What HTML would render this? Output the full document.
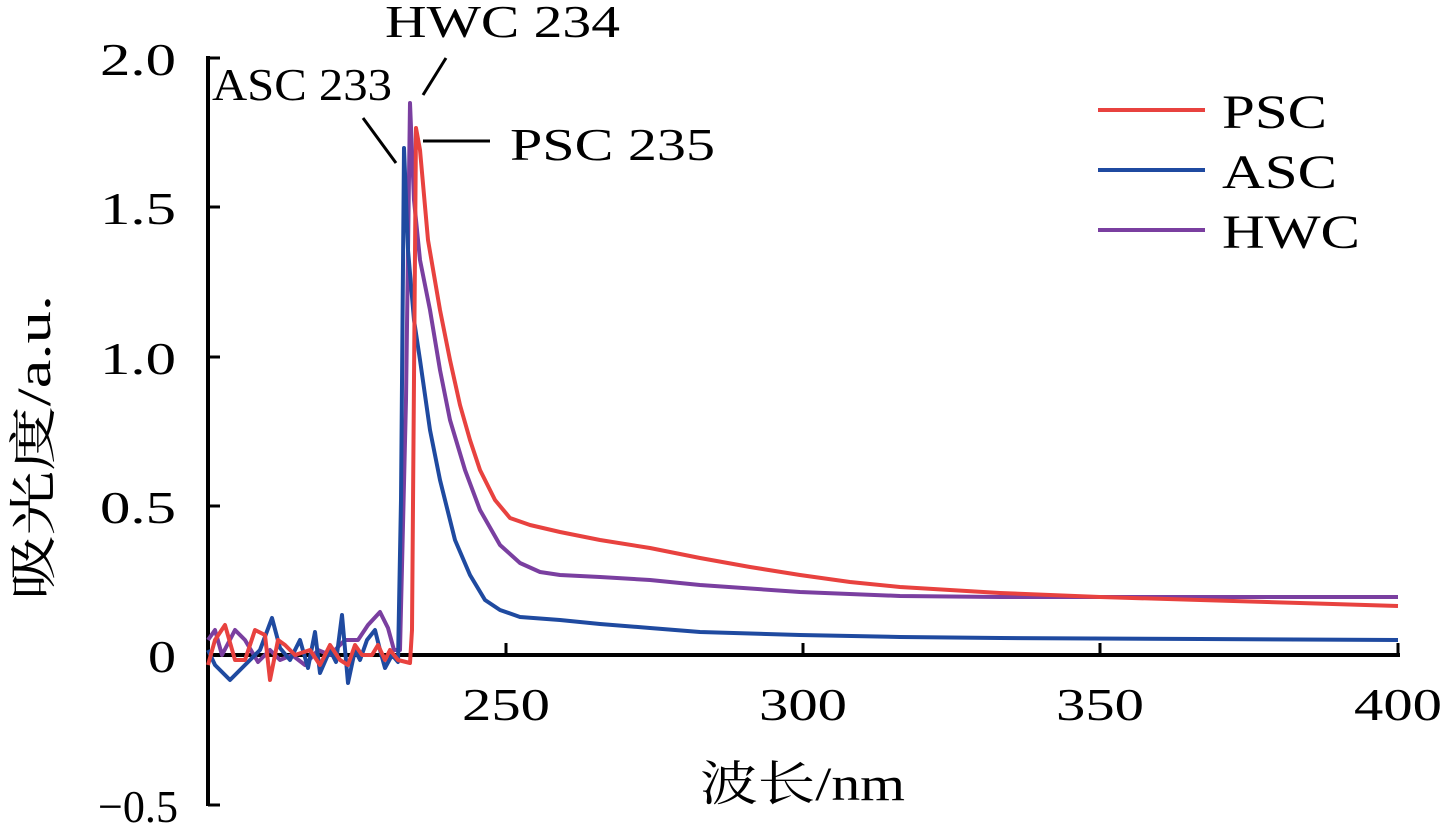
<!DOCTYPE html>
<html><head><meta charset="utf-8"><style>
html,body{margin:0;padding:0;background:#fff;}
svg{display:block;}
text{font-family:"Liberation Serif","Noto Serif CJK SC",serif;fill:#000;}
</style></head><body>
<svg width="1441" height="823" viewBox="0 0 1441 823">
<line x1="208" y1="56" x2="208" y2="806" stroke="#000" stroke-width="4"/>
<line x1="206" y1="655" x2="1400" y2="655" stroke="#000" stroke-width="4"/>
<g stroke="#000" stroke-width="3">
<line x1="208" y1="58" x2="220" y2="58"/>
<line x1="208" y1="207" x2="220" y2="207"/>
<line x1="208" y1="357" x2="220" y2="357"/>
<line x1="208" y1="506" x2="220" y2="506"/>
<line x1="208" y1="805" x2="220" y2="805"/>
<line x1="506" y1="655" x2="506" y2="643"/>
<line x1="803" y1="655" x2="803" y2="643"/>
<line x1="1100" y1="655" x2="1100" y2="643"/>
<line x1="1398" y1="655" x2="1398" y2="643"/>
</g>
<g font-size="46">
<text x="100" y="75" textLength="76" lengthAdjust="spacingAndGlyphs">2.0</text>
<text x="100" y="224" textLength="76" lengthAdjust="spacingAndGlyphs">1.5</text>
<text x="100" y="374" textLength="76" lengthAdjust="spacingAndGlyphs">1.0</text>
<text x="100" y="523" textLength="76" lengthAdjust="spacingAndGlyphs">0.5</text>
<text x="148" y="672" textLength="28" lengthAdjust="spacingAndGlyphs">0</text>
<text x="98" y="822" textLength="80" lengthAdjust="spacingAndGlyphs">−0.5</text>
</g>
<g font-size="46">
<text x="462" y="720" textLength="88" lengthAdjust="spacingAndGlyphs">250</text>
<text x="759" y="720" textLength="88" lengthAdjust="spacingAndGlyphs">300</text>
<text x="1056" y="720" textLength="88" lengthAdjust="spacingAndGlyphs">350</text>
<text x="1354" y="720" textLength="88" lengthAdjust="spacingAndGlyphs">400</text>
</g>
<text x="700" y="800" font-size="48" textLength="205" lengthAdjust="spacingAndGlyphs">波长/nm</text>
<text transform="translate(50,600) rotate(-90)" font-size="48" textLength="305" lengthAdjust="spacingAndGlyphs">吸光度/a.u.</text>
<g fill="none" stroke-width="4" stroke-linejoin="round">
<polyline stroke="#7a3fa0" points="208,640 215,630 222,655 235,630 245,640 258,662 270,650 280,660 292,655 305,665 318,650 330,655 345,640 358,640 368,625 380,612 388,628 394,650 400,650 406,400 410,103 414,200 420,260 430,310 440,370 450,420 465,470 480,510 500,545 520,563 540,572 560,575 600,577 650,580 700,585 800,592 900,596 1000,597 1200,597 1398,597"/>
<polyline stroke="#1f4aa0" points="208,650 215,665 230,680 240,670 250,660 260,650 272,618 280,648 290,660 300,640 308,668 315,632 320,673 330,650 336,662 342,615 348,683 355,650 360,660 367,640 375,630 380,650 385,668 392,655 398,662 401,500 404,148 408,250 414,320 420,360 430,430 440,480 455,540 470,575 485,600 500,610 520,617 560,620 600,624 650,628 700,632 800,635 900,637 1000,638 1200,639 1398,640"/>
<polyline stroke="#e8423f" points="208,665 215,640 225,625 235,660 245,660 255,630 265,635 270,680 278,640 285,645 295,655 310,650 320,665 330,645 340,660 348,665 355,645 362,655 372,655 378,645 385,660 390,650 398,660 410,663 412,630 416,128 420,150 428,240 440,310 450,360 460,405 470,440 480,470 495,500 510,518 530,525 560,532 600,540 650,548 700,558 750,567 800,575 850,582 900,587 1000,593 1100,597 1200,600 1300,603 1398,606"/>
</g>
<g stroke="#000" stroke-width="3">
<line x1="363" y1="118" x2="396" y2="163"/>
<line x1="423" y1="95" x2="446" y2="58"/>
<line x1="423" y1="141" x2="490" y2="141"/>
</g>
<g font-size="46">
<text x="385" y="37" textLength="235" lengthAdjust="spacingAndGlyphs">HWC 234</text>
<text x="212" y="100" textLength="180" lengthAdjust="spacingAndGlyphs">ASC 233</text>
<text x="510" y="160" textLength="205" lengthAdjust="spacingAndGlyphs">PSC 235</text>
</g>
<g stroke-width="4">
<line x1="1098" y1="110" x2="1205" y2="110" stroke="#e8423f"/>
<line x1="1098" y1="170" x2="1205" y2="170" stroke="#1f4aa0"/>
<line x1="1098" y1="230" x2="1205" y2="230" stroke="#7a3fa0"/>
</g>
<g font-size="48">
<text x="1222" y="128" textLength="105" lengthAdjust="spacingAndGlyphs">PSC</text>
<text x="1222" y="188" textLength="115" lengthAdjust="spacingAndGlyphs">ASC</text>
<text x="1222" y="248" textLength="138" lengthAdjust="spacingAndGlyphs">HWC</text>
</g>
</svg>
</body></html>
